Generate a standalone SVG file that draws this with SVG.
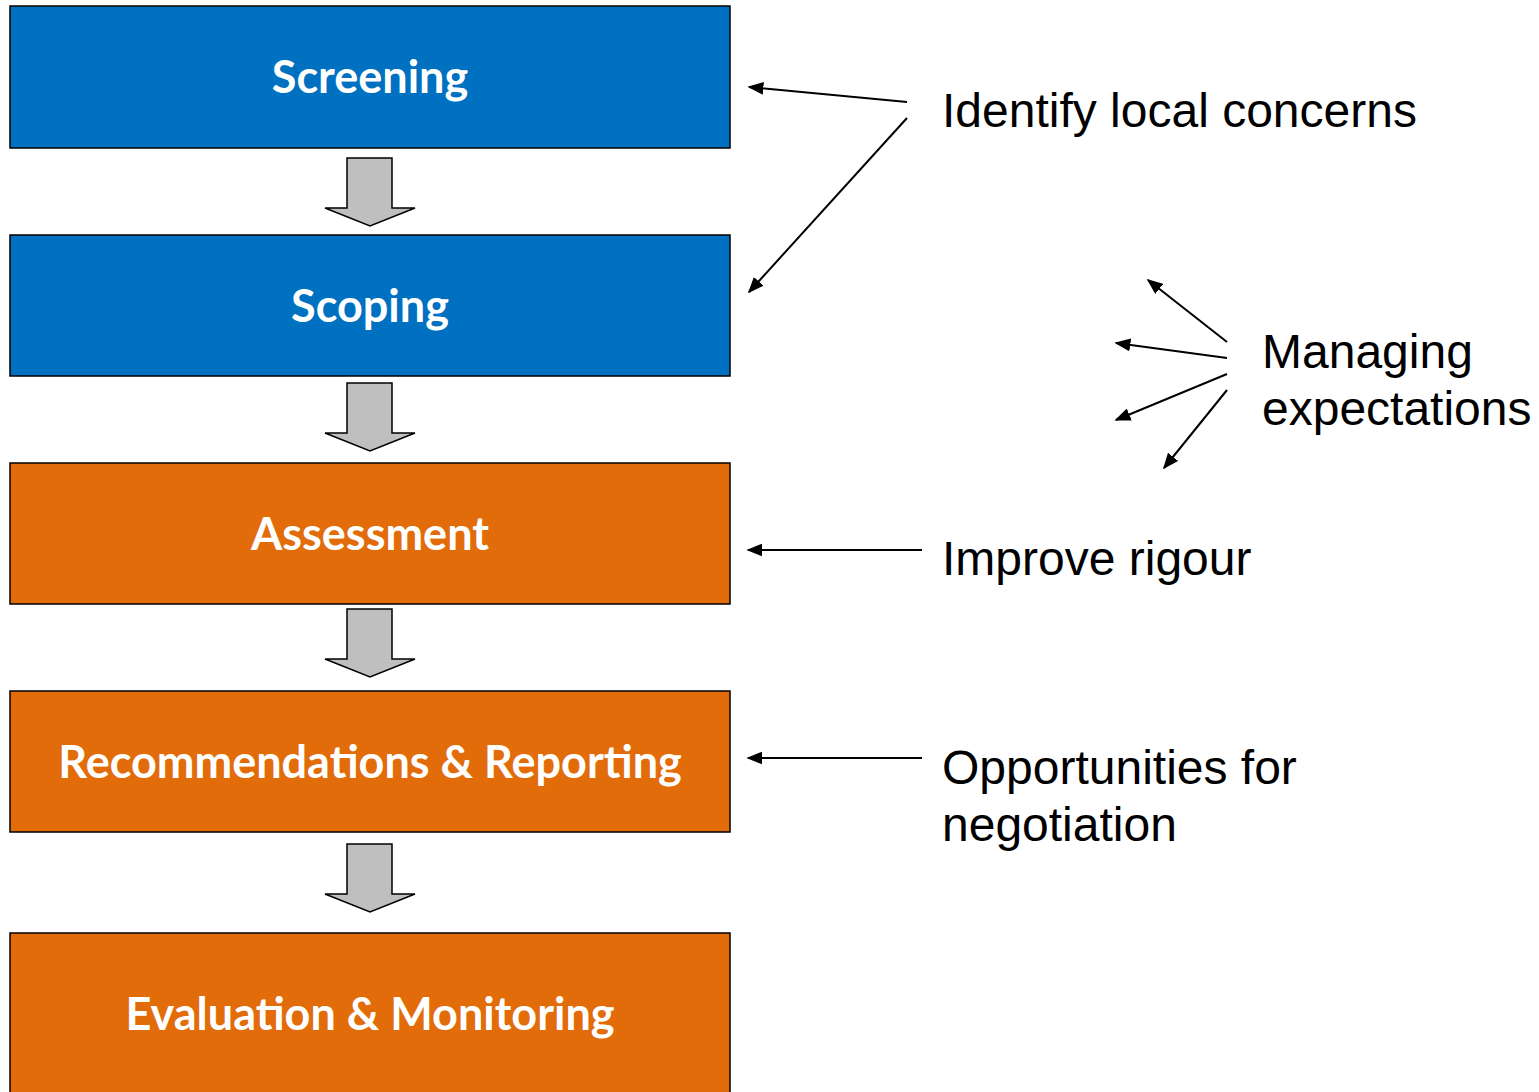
<svg xmlns="http://www.w3.org/2000/svg" width="1539" height="1092" viewBox="0 0 1539 1092">
<style>
.box{stroke:#000;stroke-width:1.5}
.blue{fill:#0070C0}
.orange{fill:#E36C0A}
.lbl{font-family:Lato,"Open Sans",sans-serif;font-weight:bold;font-size:45px;fill:#fff;text-anchor:middle}
.note{font-family:"Liberation Sans",Arial,sans-serif;font-size:48px;fill:#000}
.blk{fill:#BFBFBF;stroke:#000;stroke-width:1.5;stroke-linejoin:miter}
</style>
<defs>
<marker id="ahb" viewBox="0 0 10 10" refX="9" refY="5" markerWidth="16" markerHeight="13" orient="auto" markerUnits="userSpaceOnUse" preserveAspectRatio="none">
<path d="M0,0 L10,5 L0,10 Z" fill="#000"/>
</marker>
<path id="blkarrow" class="blk" d="M0,0 H45 V50 H68 L23,68 L-22,50 H0 Z"/>
</defs>
<rect width="1539" height="1092" fill="#fff"/>
<g id="screening"><rect class="box blue" x="10" y="6" width="720" height="142"/><text class="lbl" x="370" y="93">Screening</text></g>
<g id="scoping"><rect class="box blue" x="10" y="235" width="720" height="141"/><text class="lbl" x="370" y="322">Scoping</text></g>
<g id="assessment"><rect class="box orange" x="10" y="463" width="720" height="141"/><text class="lbl" x="370" y="550">Assessment</text></g>
<g id="recommendations"><rect class="box orange" x="10" y="691" width="720" height="141"/><text class="lbl" x="370" y="778">Recommendations &amp; Reporting</text></g>
<g id="evaluation"><rect class="box orange" x="10" y="933" width="720" height="170"/><text class="lbl" x="370" y="1030">Evaluation &amp; Monitoring</text></g>
<g id="note-identify"><text class="note" x="942" y="127">Identify local concerns</text></g>
<g id="note-managing"><text class="note" x="1262" y="368">Managing</text><text class="note" x="1262" y="425">expectations</text></g>
<g id="note-rigour"><text class="note" x="942" y="575">Improve rigour</text></g>
<g id="note-negotiation"><text class="note" x="942" y="784">Opportunities for</text><text class="note" x="942" y="841">negotiation</text></g>
<g id="connectors">
<use href="#blkarrow" x="347" y="158"/>
<use href="#blkarrow" x="347" y="383"/>
<use href="#blkarrow" x="347" y="609"/>
<use href="#blkarrow" x="347" y="844"/>
<g stroke="#000" stroke-width="2" fill="none">
<line x1="907" y1="102" x2="749" y2="87" marker-end="url(#ahb)"/>
<line x1="907" y1="118" x2="749" y2="292" marker-end="url(#ahb)"/>
<line x1="1227" y1="342" x2="1148" y2="280" marker-end="url(#ahb)"/>
<line x1="1227" y1="358" x2="1116" y2="343" marker-end="url(#ahb)"/>
<line x1="1227" y1="374" x2="1116" y2="420" marker-end="url(#ahb)"/>
<line x1="1227" y1="390" x2="1164" y2="468" marker-end="url(#ahb)"/>
<line x1="922" y1="550" x2="748" y2="550" marker-end="url(#ahb)"/>
<line x1="922" y1="758" x2="748" y2="758" marker-end="url(#ahb)"/>
</g>
</g>
</svg>
